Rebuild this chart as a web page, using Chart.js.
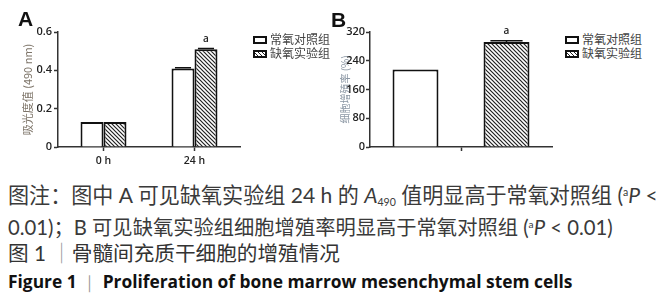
<!DOCTYPE html>
<html>
<head>
<meta charset="utf-8">
<script src="https://cdn.jsdelivr.net/npm/chart.js@4.4.1/dist/chart.umd.min.js"></script>
<style>
  html, body { margin: 0; padding: 0; background: #fff; }
  #wrap { position: relative; width: 670px; height: 300px; overflow: hidden; background: #fff; }
  .cv { position: absolute; }
  .panel { position: absolute; font-family: "Liberation Sans", Arial, sans-serif; font-weight: bold; font-size: 21px; color: #111; line-height: 1; }
  .leg { position: absolute; font-family: "Noto Sans CJK SC", sans-serif; font-size: 12px; color: #444; line-height: 14px; white-space: nowrap; }
  .leg .row { position: relative; height: 14px; }
  .leg .box { position: absolute; left: 0; top: 3px; width: 10px; height: 4px; border: 2px solid #111; background: #fff; }
  .leg .box.h { background: repeating-linear-gradient(45deg, #fff 0px, #fff 1.6px, #222 1.6px, #222 2.8px); }
  .leg .txt { position: absolute; left: 17px; top: -1px; }
  .cap { position: absolute; left: 8px; white-space: nowrap; font-family: Lato, "Noto Sans CJK SC", sans-serif; font-size: 18px; line-height: 20px; height: 20px; color: #3a3a3a; display: inline-block; }
  .cap i { font-style: italic; }
  .cap sub { font-size: 0.5em; vertical-align: -3px; line-height: 0; }
  .cap sup { font-size: 0.5em; vertical-align: 7px; line-height: 0; }
  .bar { color: #999; }
</style>
</head>
<body>
<div id="wrap">
  <canvas id="cA" class="cv" style="left:0;top:0;width:250px;height:175px" width="250" height="175"></canvas>
  <canvas id="cB" class="cv" style="left:320px;top:0;width:240px;height:175px" width="240" height="175"></canvas>
  <div class="panel" style="left:18px;top:8px">A</div>
  <div class="panel" style="left:331px;top:9px">B</div>
  <div class="leg" id="legA" style="left:253px;top:33px"></div>
  <div class="leg" id="legB" style="left:565px;top:33px"></div>
  <div class="cap" data-w="650" style="top:185px">图注：图中 A 可见缺氧实验组 24 h 的 <i>A</i><sub>490</sub> 值明显高于常氧对照组 (<sup>a</sup><i>P</i> &lt;</div>
  <div class="cap" data-w="605" style="top:217px">0.01)；B 可见缺氧实验组细胞增殖率明显高于常氧对照组 (<sup>a</sup><i>P</i> &lt; 0.01)</div>
  <div class="cap" data-w="332" style="top:243px; color:#333">图 1 <span class="bar">｜</span>骨髓间充质干细胞的增殖情况</div>
  <div class="cap" data-w="565" style="top:271px; font-family:'Open Sans', sans-serif; font-weight:bold; font-size:17px; color:#111">Figure 1 <span class="bar" style="font-weight:normal">｜</span> Proliferation of bone marrow mesenchymal stem cells</div>
</div>
<script>
// ---------------- data ----------------
const seriesNames = ['常氧对照组', '缺氧实验组'];

const categoriesA = ['0 h', '24 h'];
const normoxiaA = [0.13, 0.41];
const hypoxiaA = [0.13, 0.51];
const normoxiaErrA = [0, 0.004];
const hypoxiaErrA = [0, 0.004];
const hypoxiaSigA = ['', 'a'];
const yTicksA = [0, 0.2, 0.4, 0.6];
const yTitleA = '吸光度值 (490 nm)';

const categoriesB = [''];
const normoxiaB = [216];
const hypoxiaB = [292];
const normoxiaErrB = [0];
const hypoxiaErrB = [4];
const hypoxiaSigB = ['a'];
const yTicksB = [0, 80, 160, 240, 320];
const yTitleB = '细胞增殖率 (%)';

// ---------------- caption fit (font size to target width) ----------------
document.querySelectorAll('.cap').forEach(el => {
  const target = +el.dataset.w;
  const base = parseFloat(getComputedStyle(el).fontSize);
  const w = el.getBoundingClientRect().width;
  el.style.fontSize = (base * target / w).toFixed(2) + 'px';
});

// ---------------- styles ----------------
function hatch() {
  const c = document.createElement('canvas');
  c.width = 4; c.height = 4;
  const g = c.getContext('2d');
  g.fillStyle = '#fff'; g.fillRect(0, 0, 4, 4);
  g.strokeStyle = '#222'; g.lineWidth = 1.2;
  g.beginPath();
  g.moveTo(-1, -1); g.lineTo(5, 5);
  g.moveTo(-1, 3); g.lineTo(1, 5);
  g.moveTo(3, -1); g.lineTo(5, 1);
  g.stroke();
  return g.createPattern(c, 'repeat');
}
const hatchFill = hatch();

function buildLegend(id) {
  const el = document.getElementById(id);
  seriesNames.forEach((n, i) => {
    const r = document.createElement('div'); r.className = 'row';
    const b = document.createElement('div'); b.className = 'box' + (i === 1 ? ' h' : '');
    const t = document.createElement('div'); t.className = 'txt'; t.textContent = n;
    r.appendChild(b); r.appendChild(t); el.appendChild(r);
  });
}
buildLegend('legA'); buildLegend('legB');

const errPlugin = {
  id: 'errPlugin',
  afterDatasetsDraw(chart) {
    const ctx = chart.ctx;
    const ys = chart.scales.y;
    chart.data.datasets.forEach((ds, di) => {
      const meta = chart.getDatasetMeta(di);
      meta.data.forEach((bar, i) => {
        const v = ds.data[i];
        const e = (ds.errors || [])[i] || 0;
        const top = ys.getPixelForValue(v + e);
        ctx.save();
        if (e > 0) {
          ctx.strokeStyle = '#111'; ctx.lineWidth = 1.5;
          const w = bar.width * 0.35;
          ctx.beginPath();
          ctx.moveTo(bar.x, ys.getPixelForValue(v)); ctx.lineTo(bar.x, top);
          ctx.moveTo(bar.x - w, top); ctx.lineTo(bar.x + w, top);
          ctx.stroke();
        }
        const s = (ds.sig || [])[i];
        if (s) {
          ctx.fillStyle = '#222';
          ctx.font = '600 10px "Open Sans", sans-serif';
          ctx.textAlign = 'center'; ctx.textBaseline = 'middle';
          ctx.fillText(s, bar.x, top - 9);
        }
        ctx.restore();
      });
    });
  }
};

function makeChart(id, cats, d1, d2, e1, e2, sig, yt, title, opts) {
  return new Chart(document.getElementById(id), {
    type: 'bar',
    data: {
      labels: cats,
      datasets: [
        { label: seriesNames[0], data: d1, errors: e1, backgroundColor: '#fff', borderColor: '#111', borderWidth: 2,
          categoryPercentage: opts.catPct, barPercentage: opts.barPct },
        { label: seriesNames[1], data: d2, errors: e2, sig: sig, backgroundColor: hatchFill, borderColor: '#111', borderWidth: 2,
          categoryPercentage: opts.catPct, barPercentage: opts.barPct }
      ]
    },
    options: {
      responsive: false, animation: false, maintainAspectRatio: false,
      layout: { padding: { left: 0, right: opts.padRight, top: 32, bottom: 0 } },
      plugins: { legend: { display: false }, tooltip: { enabled: false } },
      scales: {
        x: {
          grid: { display: true, drawOnChartArea: false, drawTicks: true, tickLength: 4, offset: false, color: '#333', tickColor: '#333', tickWidth: 1.5 },
          border: { display: true, color: '#333', width: 1.5 },
          ticks: { color: '#222', font: { family: '"Open Sans", sans-serif', size: 10.5, weight: '600' }, padding: 4 },
          afterFit(s) { s.height = 28; }
        },
        y: {
          min: 0, max: yt[yt.length - 1],
          afterBuildTicks(s) { s.ticks = yt.map(v => ({ value: v })); },
          grid: { display: true, drawOnChartArea: false, drawTicks: true, tickLength: 4, color: '#333', tickColor: '#333', tickWidth: 1.5 },
          border: { display: true, color: '#333', width: 1.5 },
          ticks: { color: '#222', font: { family: '"Open Sans", sans-serif', size: 11, weight: '600' }, padding: opts.tickPad },
          title: { display: true, text: title, color: opts.titleColor, font: { family: '"Noto Sans CJK SC", sans-serif', size: opts.titleSize }, padding: { top: opts.titlePad, bottom: 0 } },
          afterFit(s) { s.width = opts.yWidth; }
        }
      }
    },
    plugins: [errPlugin]
  });
}

makeChart('cA', categoriesA, normoxiaA, hypoxiaA, normoxiaErrA, hypoxiaErrA, hypoxiaSigA, yTicksA, yTitleA,
  { catPct: 0.505, barPct: 1, padRight: 10, yWidth: 58, tickPad: 2, titleColor: '#7d7468', titleSize: 11, titlePad: 21 });
makeChart('cB', categoriesB, normoxiaB, hypoxiaB, normoxiaErrB, hypoxiaErrB, hypoxiaSigB, yTicksB, yTitleB,
  { catPct: 1, barPct: 0.505, padRight: 8, yWidth: 50, tickPad: 1, titleColor: '#8a96a3', titleSize: 10, titlePad: 19 });
</script>
</body>
</html>
